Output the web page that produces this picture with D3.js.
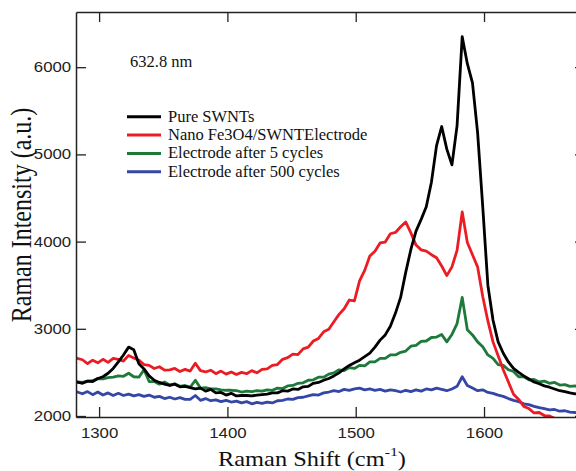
<!DOCTYPE html>
<html><head><meta charset="utf-8">
<script src="https://cdn.jsdelivr.net/npm/d3@7"></script>
<style>body{margin:0;background:#fff} svg{display:block}</style>
</head><body>
<svg id="chart" width="576" height="471"></svg>
<script>
// Raman shift sample positions (cm^-1)
const shifts = [
1279,1283,1287,1291,1295,1299,1303,1307,1311,1315,
1319,1323,1327,1331,1335,1339,1343,1347,1351,1355,
1359,1363,1367,1371,1375,1379,1383,1387,1391,1395,
1399,1403,1407,1411,1415,1419,1423,1427,1431,1435,
1439,1443,1447,1451,1455,1459,1463,1467,1471,1475,
1479,1483,1487,1491,1495,1499,1503,1507,1511,1515,
1519,1523,1527,1531,1535,1539,1543,1547,1551,1555,
1559,1563,1567,1571,1575,1579,1583,1587,1591,1595,
1599,1603,1607,1611,1615,1619,1623,1627,1631,1635,
1639,1643,1647,1651,1655,1659,1663,1667,1671,1675];

const pureSWNTs = [
2380,2390,2375,2400,2395,2430,2450,2490,2545,2620,
2700,2790,2760,2600,2540,2460,2410,2385,2365,2350,
2365,2335,2340,2325,2310,2320,2285,2305,2265,2270,
2240,2260,2230,2235,2235,2230,2240,2245,2250,2265,
2265,2290,2285,2310,2305,2335,2340,2375,2385,2410,
2430,2460,2495,2540,2580,2610,2640,2680,2720,2790,
2870,2930,3030,3180,3360,3650,3910,4120,4255,4400,
4680,5100,5320,5060,4880,5330,6350,6040,5820,5250,
4400,3500,3100,2850,2720,2620,2545,2500,2460,2425,
2390,2370,2345,2330,2310,2290,2280,2265,2255,2250];

const nanoFe3O4 = [
2690,2660,2645,2600,2640,2610,2650,2615,2660,2650,
2630,2695,2665,2640,2590,2580,2545,2565,2525,2530,
2545,2510,2535,2515,2605,2520,2505,2525,2485,2515,
2480,2505,2475,2500,2485,2520,2495,2535,2540,2580,
2590,2650,2670,2710,2705,2770,2790,2860,2890,2965,
2995,3080,3165,3230,3330,3320,3550,3670,3835,3890,
3985,3995,4090,4105,4170,4225,4100,3960,3905,3890,
3850,3815,3720,3610,3710,3900,4340,3990,3850,3710,
3370,3090,2850,2690,2530,2390,2250,2190,2110,2085,
2035,2040,2005,2000,1975,null,null,null,null,null];

const after5 = [
2365,2390,2385,2400,2405,2430,2425,2440,2445,2460,
2455,2490,2450,2445,2530,2395,2395,2365,2390,2355,
2370,2340,2350,2330,2410,2320,2325,2310,2310,2300,
2295,2295,2290,2275,2285,2280,2290,2285,2300,2295,
2320,2315,2345,2350,2375,2380,2410,2415,2445,2445,
2480,2495,2530,2520,2555,2545,2580,2575,2620,2620,
2660,2660,2700,2700,2730,2745,2800,2810,2855,2860,
2900,2905,2935,2850,2935,3060,3360,2990,2930,2850,
2795,2700,2660,2590,2580,2530,2510,2450,2450,2415,
2420,2390,2400,2375,2385,2355,2360,2340,2345,2325];

const after500 = [
2305,2275,2255,2280,2245,2275,2240,2265,2235,2260,
2235,2250,2230,2245,2225,2240,2215,2225,2200,2215,
2195,2210,2190,2190,2235,2180,2200,2175,2185,2165,
2180,2160,2170,2150,2165,2140,2155,2145,2160,2150,
2175,2180,2195,2190,2210,2215,2230,2245,2240,2265,
2275,2290,2280,2305,2295,2310,2320,2300,2310,2295,
2305,2285,2300,2290,2275,2295,2280,2300,2285,2310,
2300,2320,2305,2290,2310,2340,2450,2350,2320,2290,
2300,2270,2260,2240,2225,2200,2180,2165,2140,2130,
2110,2095,2085,2070,2075,2055,2060,2045,2040,2035];

const seriesNames = ["Pure SWNTs","Nano Fe3O4/SWNTElectrode","Electrode after 5 cycles","Electrode after 500 cycles"];
const seriesColors = ["#000000","#ec1c24","#1d7a3a","#3446a6"];
const seriesValues = [pureSWNTs, nanoFe3O4, after5, after500];
const xTicks = [1300,1400,1500,1600];
const yTicks = [2000,3000,4000,5000,6000];
const annotation = "632.8 nm";

const svg = d3.select("#chart");
const L = 76, R = 585, T = 12, B = 417;
const x = d3.scaleLinear().domain([1282, 1678.7]).range([L, R]);
const y = d3.scaleLinear().domain([1988.5, 6633]).range([B, T]);

svg.append("defs").append("clipPath").attr("id","plotclip")
  .append("rect").attr("x",L).attr("y",T).attr("width",R-L).attr("height",B-T);

const line = d3.line()
  .defined(d => d[1] != null)
  .x(d => x(d[0])).y(d => y(d[1]));

const plot = svg.append("g").attr("clip-path","url(#plotclip)");
// draw order: blue, green, red, black
[3,2,1,0].forEach(i => {
  const pts = shifts.map((s, k) => [s, seriesValues[i][k]]);
  plot.append("path").datum(pts)
    .attr("d", line)
    .attr("fill","none")
    .attr("stroke", seriesColors[i])
    .attr("stroke-width", 2.8)
    .attr("stroke-linejoin","round");
});

function styleAxis(g) {
  g.select(".domain").attr("stroke","#222").attr("stroke-width",1.5);
  g.selectAll(".tick line").attr("stroke","#222").attr("stroke-width",1.3);
  g.selectAll(".tick text")
    .attr("font-family","'Liberation Sans', Arial, sans-serif")
    .attr("font-size",14).attr("fill","#222");
}
const fmt = d3.format("d");

const gB = svg.append("g").attr("transform",`translate(0,${B})`)
  .call(d3.axisBottom(x).tickValues(xTicks).tickFormat(fmt).tickSizeInner(-10).tickSizeOuter(0).tickPadding(11));
styleAxis(gB);
gB.selectAll(".tick text").attr("transform","scale(1.2,1)");

const gT = svg.append("g").attr("transform",`translate(0,${T})`)
  .call(d3.axisTop(x).tickValues(xTicks).tickSizeInner(-10).tickSizeOuter(0).tickFormat(() => ""));
styleAxis(gT);

const gL = svg.append("g").attr("transform",`translate(${L},0)`)
  .call(d3.axisLeft(y).tickValues(yTicks).tickFormat(fmt).tickSizeInner(-10).tickSizeOuter(0).tickPadding(4));
styleAxis(gL);
gL.selectAll(".tick text").attr("transform","scale(1.2,1)");

const gR = svg.append("g").attr("transform",`translate(${R},0)`)
  .call(d3.axisRight(y).tickValues(yTicks).tickSizeInner(-10).tickSizeOuter(0).tickFormat(() => ""));
styleAxis(gR);

// axis titles
const xt = svg.append("text")
  .attr("transform","translate(312,466) scale(1.22,1)")
  .attr("text-anchor","middle")
  .attr("font-family","'Liberation Serif', 'Times New Roman', serif")
  .attr("font-size",20).attr("fill","#111");
xt.append("tspan").text("Raman Shift (cm");
xt.append("tspan").attr("dy",-10).attr("font-size",13).text("-1");
xt.append("tspan").attr("dy",10).text(")");

svg.append("text")
  .attr("transform","translate(31,215) rotate(-90) scale(1,1.2)")
  .attr("text-anchor","middle")
  .attr("font-family","'Liberation Serif', 'Times New Roman', serif")
  .attr("font-size",24).attr("fill","#111")
  .text("Raman Intensity (a.u.)");

// annotation
svg.append("text").attr("x",130).attr("y",67)
  .attr("font-family","'Liberation Serif', 'Times New Roman', serif")
  .attr("font-size",16.5).attr("fill","#111").text(annotation);

// legend
const leg = svg.append("g");
seriesNames.forEach((name, i) => {
  const ry = 116.7 + i * 18.35;
  leg.append("line").attr("x1",127).attr("x2",161).attr("y1",ry).attr("y2",ry)
    .attr("stroke",seriesColors[i]).attr("stroke-width",3);
  leg.append("text").attr("x",168).attr("y",ry + 5)
    .attr("font-family","'Liberation Serif', 'Times New Roman', serif")
    .attr("font-size",16.5).attr("fill","#111").text(name);
});
</script>
</body></html>
